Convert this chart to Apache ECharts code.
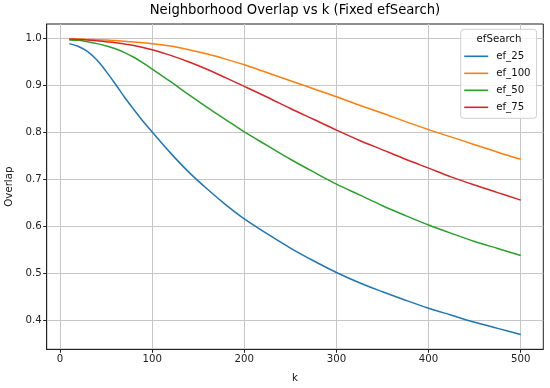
<!DOCTYPE html>
<html>
<head>
<meta charset="utf-8">
<script src="https://cdn.jsdelivr.net/npm/echarts@6/dist/echarts.min.js"></script>
<style>
html,body{margin:0;padding:0;background:#fff;}
#chart{width:550px;height:388px;}
</style>
</head>
<body>
<div id="chart"></div>
<script>
const kValues = [10,20,30,40,50,60,70,80,90,100,120,140,160,180,200,225,250,275,300,325,350,375,400,425,450,475,500];
const ef25  = [0.988,0.982,0.971,0.953,0.929,0.902,0.874,0.848,0.823,0.800,0.755,0.714,0.678,0.645,0.615,0.583,0.553,0.526,0.501,0.479,0.460,0.442,0.425,0.410,0.395,0.382,0.369];
const ef100 = [0.998,0.998,0.997,0.9965,0.9955,0.9945,0.993,0.9915,0.990,0.988,0.983,0.975,0.966,0.955,0.943,0.926,0.909,0.892,0.875,0.857,0.840,0.822,0.805,0.789,0.773,0.757,0.742];
const ef50  = [0.996,0.995,0.992,0.988,0.983,0.977,0.969,0.959,0.947,0.934,0.907,0.879,0.852,0.826,0.800,0.771,0.742,0.715,0.689,0.666,0.643,0.622,0.602,0.584,0.567,0.552,0.537];
const ef75  = [0.998,0.997,0.996,0.994,0.992,0.990,0.987,0.984,0.980,0.975,0.963,0.949,0.933,0.915,0.897,0.874,0.850,0.827,0.804,0.782,0.762,0.742,0.723,0.704,0.687,0.671,0.655];
const seriesNames = ['ef_25','ef_100','ef_50','ef_75'];
const seriesColors = ['#1f77b4','#ff7f0e','#2ca02c','#d62728'];
const xTicks = [0,100,200,300,400,500];
const yTicks = [0.4,0.5,0.6,0.7,0.8,0.9,1.0];

const allSeries = [ef25, ef100, ef50, ef75];
const font = 'DejaVu Sans';
const chart = echarts.init(document.getElementById('chart'), null, {renderer:'canvas'});
chart.setOption({
  backgroundColor:'#fff',
  animation:false,
  textStyle:{fontFamily:font},
  title:{
    text:'Neighborhood Overlap vs k (Fixed efSearch)',
    left:295, top:4, textAlign:'center', padding:0,
    textStyle:{fontFamily:font, fontSize:13.2, fontWeight:'normal', color:'#000'}
  },
  grid:{left:46.7, right:6.7, top:24, bottom:38.7, containLabel:false, outerBoundsMode:'none',
        show:true, borderColor:'#222', borderWidth:1, backgroundColor:'transparent'},
  legend:{
    data:seriesNames,
    orient:'vertical',
    left:460.7, top:29.3,
    padding:[21,6,5,3.5],
    itemGap:5,
    itemWidth:24, itemHeight:1.6,
    icon:'rect',
    backgroundColor:'rgba(255,255,255,0.8)',
    borderColor:'#d0d0d0', borderWidth:1, borderRadius:3,
    textStyle:{fontFamily:font, fontSize:10.2, color:'#111', lineHeight:12, padding:[0,0,0,3]}
  },
  graphic:[{
    type:'text', x:499, y:39, z:100,
    style:{text:'efSearch', font:'10.2px "DejaVu Sans"', fill:'#111', align:'center', verticalAlign:'middle', textAlign:'center', textVerticalAlign:'middle'}
  }],
  xAxis:{
    type:'value', min:-14.5, max:524.5,
    name:'k', nameLocation:'middle', nameGap:24,
    nameTextStyle:{fontFamily:font, fontSize:10.2, color:'#111'},
    axisLine:{show:true, onZero:false, lineStyle:{color:'#222', width:1}},
    axisTick:{show:true, inside:false, length:3.5, customValues:xTicks, lineStyle:{color:'#222', width:1}},
    axisLabel:{customValues:xTicks, fontFamily:font, fontSize:10.2, color:'#222', margin:5},
    splitLine:{show:true, lineStyle:{color:'#c6c6c6', width:1}}
  },
  yAxis:{
    type:'value', min:0.3375, max:1.0298,
    name:'Overlap', nameLocation:'middle', nameGap:31, nameRotate:90,
    nameTextStyle:{fontFamily:font, fontSize:10.2, color:'#111'},
    axisLine:{show:true, onZero:false, lineStyle:{color:'#222', width:1}},
    axisTick:{show:true, inside:false, length:3.5, customValues:yTicks, lineStyle:{color:'#222', width:1}},
    axisLabel:{customValues:yTicks, fontFamily:font, fontSize:10.2, color:'#222', margin:5, formatter:v=>v.toFixed(1)},
    splitLine:{show:true, lineStyle:{color:'#c6c6c6', width:1}}
  },
  series: seriesNames.map((n,i)=>({
    name:n, type:'line', showSymbol:false, symbol:'none', smooth:0.35,
    data:kValues.map((k,j)=>[k, allSeries[i][j]]),
    lineStyle:{color:seriesColors[i], width:1.5},
    itemStyle:{color:seriesColors[i]}
  }))
});
</script>
</body>
</html>
